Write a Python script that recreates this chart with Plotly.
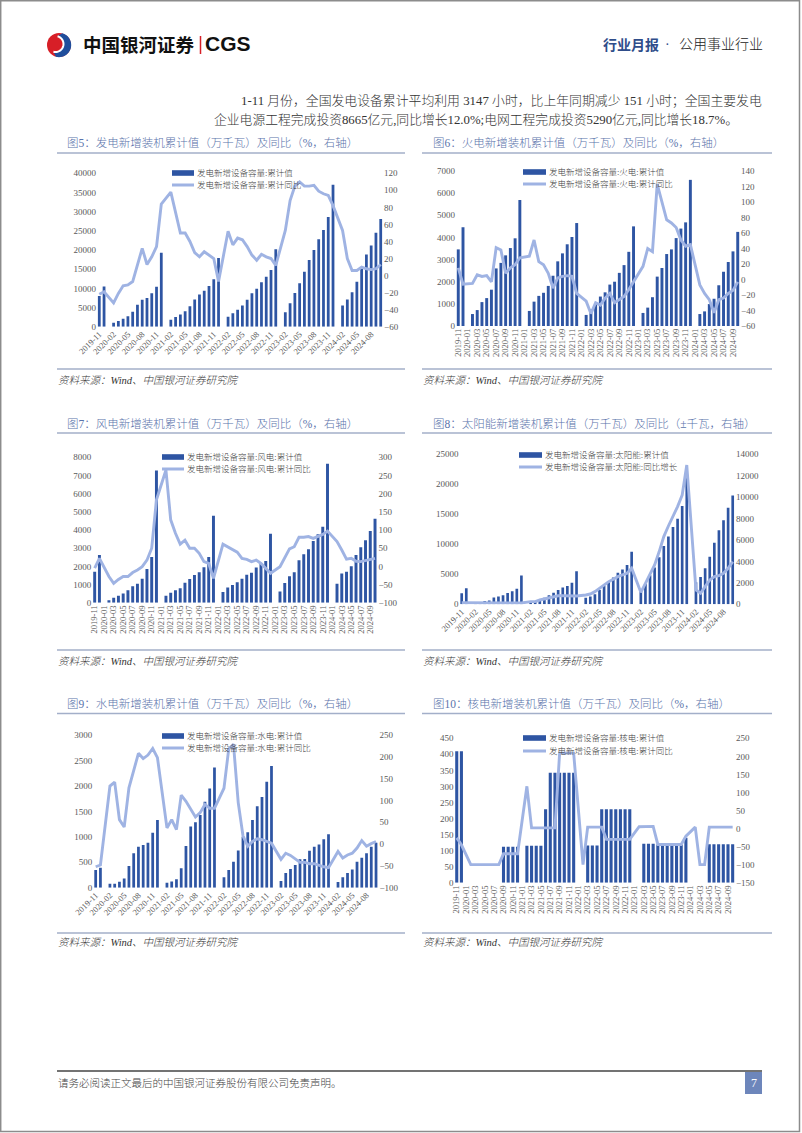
import math
import plotly.graph_objects as go

W, H = 802, 1133

# ---------------- data ----------------
months = [
    "2019-11", "2019-12",
    "2020-01", "2020-02", "2020-03", "2020-04", "2020-05", "2020-06",
    "2020-07", "2020-08", "2020-09", "2020-10", "2020-11", "2020-12",
    "2021-01", "2021-02", "2021-03", "2021-04", "2021-05", "2021-06",
    "2021-07", "2021-08", "2021-09", "2021-10", "2021-11", "2021-12",
    "2022-01", "2022-02", "2022-03", "2022-04", "2022-05", "2022-06",
    "2022-07", "2022-08", "2022-09", "2022-10", "2022-11", "2022-12",
    "2023-01", "2023-02", "2023-03", "2023-04", "2023-05", "2023-06",
    "2023-07", "2023-08", "2023-09", "2023-10", "2023-11", "2023-12",
    "2024-01", "2024-02", "2024-03", "2024-04", "2024-05", "2024-06",
    "2024-07", "2024-08", "2024-09", "2024-10",
]

ticks_every3 = ["2019-11", "2020-02", "2020-05", "2020-08", "2020-11", "2021-02", "2021-05",
                "2021-08", "2021-11", "2022-02", "2022-05", "2022-08", "2022-11", "2023-02",
                "2023-05", "2023-08", "2023-11", "2024-02", "2024-05", "2024-08"]
ticks_every2 = ["2019-11", "2020-01", "2020-03", "2020-05", "2020-07", "2020-09", "2020-11",
                "2021-01", "2021-03", "2021-05", "2021-07", "2021-09", "2021-11",
                "2022-01", "2022-03", "2022-05", "2022-07", "2022-09", "2022-11",
                "2023-01", "2023-03", "2023-05", "2023-07", "2023-09", "2023-11",
                "2024-01", "2024-03", "2024-05", "2024-07", "2024-09"]

# 图5 发电 total
total_val = [8000, 10500, None,
             1000, 1500, 2100, 2700, 3900, 5700, 7000, 7500, 8700, 10400, 19300, None,
             1800, 2500, 3200, 4000, 5300, 7100, 8400, 9400, 10600, 12400, 17900, None,
             2600, 3500, 4400, 5500, 7000, 8700, 9900, 11600, 13000, 14800, 20200, None,
             3800, 6100, 8800, 11300, 14300, 17400, 20000, 22800, 25200, 28600, 37000, None,
             5500, 7100, 9000, 11700, 15100, 18800, 21200, 24500, 28100]
total_yoy = [-22, -19, None,
             -32, -21, -12, -11, -7, 14, 32, 13, 22, 34, 84, None,
             98, 73, 50, 50, 40, 27, 22, 28, 24, 20, -7, None,
             52, 36, 44, 42, 34, 24, 18, 25, 22, 20, 12, None,
             53, 88, 105, 110, 105, 105, 106, 99, 96, 94, 82, None,
             53, 20, 6, 6, 10, 8, 7, 8, 13]

# 图6 火电 thermal
thermal_val = [3460, 4460, None,
               540, 720, 1080, 1260, 1640, 2600, 2850, 3190, 3520, 3960, 5690, None,
               680, 1100, 1360, 1500, 1810, 2270, 2920, 3280, 3690, 4020, 4650, None,
               500, 750, 1030, 1330, 1520, 1870, 2000, 2400, 2750, 3350, 4500, None,
               590, 830, 1300, 2230, 2620, 3250, 3460, 3970, 4400, 4680, 6600, None,
               540, 660, 990, 1230, 1840, 2450, 2890, 3370, 4250]
thermal_yoy = [15, -6, None,
               -5, 6, 4, 5, -3, 41, 38, 8, 15, 19, 28, None,
               30, 51, 23, 19, 8, -11, 2, 4, 5, 4, -18, None,
               -28, -44, -30, -33, -24, -18, -30, -26, -22, -13, -3, None,
               17, 40, 36, 123, 101, 77, 73, 67, 51, 43, 45, None,
               -7, -18, -26, -43, -26, -24, -18, -14, -3]

# 图7 风电 wind
wind_val = [1700, 2620, None,
            130, 275, 385, 510, 680, 900, 1040, 1320, 1850, 2510, 7270, None,
            385, 550, 680, 790, 1100, 1300, 1520, 1670, 1950, 2510, 4790, None,
            590, 830, 970, 1120, 1320, 1540, 1650, 1930, 2150, 2290, 3800, None,
            620, 1080, 1450, 1670, 2330, 2660, 2940, 3390, 3760, 4180, 7650, None,
            1040, 1610, 1700, 2000, 2620, 3050, 3430, 3940, 4620]
wind_yoy = [-5, 22, None,
            -28, -47, -36, -28, -28, -17, -10, -1, 17, 50, 183, None,
            265, 128, 91, 61, 72, 50, 50, 36, 13, 8, -33, None,
            61, 54, 45, 39, 22, 19, 13, 17, 8, -6, -19, None,
            -1, 22, 48, 54, 80, 80, 82, 77, 82, 88, 97, None,
            68, 45, 20, 22, 14, 13, 16, 17, 22]

# 图8 太阳能 solar
solar_val = [1830, 2670, None,
             270, 400, 540, 630, 1150, 1310, 1490, 1870, 2170, 2580, 4820, None,
             300, 450, 720, 1100, 1500, 1940, 2390, 2780, 3060, 3610, 5490, None,
             1090, 1320, 1690, 2370, 3090, 3760, 4450, 5260, 5810, 6540, 8740, None,
             2040, 3370, 4830, 6120, 7840, 9710, 11320, 12890, 14260, 16390, 21690, None,
             3670, 4570, 6000, 7920, 10250, 12350, 14000, 16090, 18130]
solar_yoy = [150, 150, None,
             120, 100, 100, 100, 100, 100, 100, 100, 100, 100, 120, None,
             250, 250, 400, 500, 620, 700, 800, 800, 800, 800, 780, None,
             870, 960, 1180, 1490, 1800, 2110, 2330, 2580, 2740, 2890, 3360, None,
             1120, 1960, 2830, 3670, 4920, 6320, 7310, 8180, 9120, 10200, 13000, None,
             1340, 1030, 1650, 2270, 2580, 2680, 2890, 3360, 3980]

# 图9 水电 hydro
hydro_val = [347, 393, None,
             79, 79, 118, 183, 425, 675, 805, 838, 884, 1080, 1330, None,
             98, 124, 164, 380, 819, 1200, 1284, 1428, 1690, 1950, 2360, None,
             203, 350, 510, 730, 1000, 1090, 1330, 1600, 1780, 2080, 2390, None,
             131, 288, 367, 445, 557, 563, 727, 805, 851, 950, 1048, None,
             111, 203, 288, 360, 511, 590, 675, 805, 884]
hydro_yoy = [-52, -48, None,
             133, 142, 56, 39, 129, 168, 208, 196, 204, 219, 198, None,
             37, 56, 33, 112, 98, 79, 62, 72, 91, 82, 82, None,
             128, 218, 229, 95, 19, -5, 6, 12, 10, 6, 2, None,
             -35, -21, -26, -35, -42, -42, -45, -45, -49, -52, -54, None,
             -17, -32, -25, -21, -9, 8, -5, 1, 6]

# 图10 核电 nuclear
nuclear_val = [410, 410, None,
               None, None, None, None, None, None, None, 112, 112, 112, 112, None,
               115, 115, 115, 115, 229, 343, 343, 343, 343, 343, 343, None,
               None, 116, 116, 116, 229, 229, 229, 229, 229, 229, 229, None,
               None, 121, 121, 121, 119, 119, 119, 119, 119, 119, 140, None,
               None, None, None, 120, 120, 120, 120, 120, 120]
nuclear_yoy = [-26, -45, None,
               -100, -100, -100, -100, -100, -100, -100, -70, -70, -70, -70, None,
               117, 2, 2, 2, 2, 2, 2, 209, 209, 209, 209, None,
               -100, 4, 4, 4, 4, -30, -30, -30, -30, -30, -30, None,
               5, 6, 6, 6, -44, -44, -44, -44, -44, -44, -21, None,
               4, -100, -100, 4, 4, 4, 4, 4, 4]

# ---------------- styles ----------------
BAR = "#2e55a3"
LINE = "#9fb3e3"
TITLE_C = "#5a73ab"
RULE_C = "#a3afc9"
TICK_C = "#595959"
SERIF = "Liberation Serif, Noto Sans CJK SC, serif"
SANS_CJK = "Noto Sans CJK SC, sans-serif"


def px(x):
    return x / W


def py(y):
    return 1 - y / H


shapes = []
annotations = []


def hline(x0, x1, y, color, width):
    shapes.append(dict(type="line", xref="paper", yref="paper", x0=px(x0), x1=px(x1),
                       y0=py(y), y1=py(y), line=dict(color=color, width=width)))


def vline(x, y0, y1, color, width):
    shapes.append(dict(type="line", xref="paper", yref="paper", x0=px(x), x1=px(x),
                       y0=py(y0), y1=py(y1), line=dict(color=color, width=width)))


def rect(x0, y0, x1, y1, fill, line_color=None, lw=0):
    shapes.append(dict(type="rect", xref="paper", yref="paper", x0=px(x0), x1=px(x1),
                       y0=py(y1), y1=py(y0), fillcolor=fill,
                       line=dict(color=line_color or fill, width=lw)))


def text(x, y, s, size, color, anchor="left", family=SERIF, style="normal", weight=300):
    annotations.append(dict(x=px(x), y=py(y), xref="paper", yref="paper", text=s,
                            showarrow=False, xanchor=anchor, yanchor="middle",
                            font=dict(size=size, color=color, family=family, style=style,
                                      weight=weight),
                            borderpad=0))


def path_px(points, close=True):
    s = "M " + " L ".join(f"{px(a):.5f},{py(b):.5f}" for a, b in points)
    return s + (" Z" if close else "")


def arc(cx, cy, r, a0, a1, n=24):
    return [(cx + r * math.cos(math.radians(a0 + (a1 - a0) * k / n)),
             cy + r * math.sin(math.radians(a0 + (a1 - a0) * k / n))) for k in range(n + 1)]


charts = [
    dict(title="图5：发电新增装机累计值（万千瓦）及同比（%，右轴）", val=total_val, yoy=total_yoy,
         names=("发电新增设备容量:累计值", "发电新增设备容量:累计同比"), ticks=ticks_every3, angle=-45,
         x0=96.9, x1=383.1, ytop=173.3, ybot=326.7, r1=[0, 40000], d1=5000, r2=[-60, 120], d2=20,
         leg=(172, 194, 196, 173, 185), bw=0.58),
    dict(title="图6：火电新增装机累计值（万千瓦）及同比（%，右轴）", val=thermal_val, yoy=thermal_yoy,
         names=("发电新增设备容量:火电:累计值", "发电新增设备容量:火电:累计同比"), ticks=ticks_every2, angle=-90,
         x0=455.9, x1=740.1, ytop=171.0, ybot=326.0, r1=[0, 7000], d1=1000, r2=[-60, 140], d2=20,
         leg=(523, 546, 548, 172, 184), bw=0.62),
    dict(title="图7：风电新增装机累计值（万千瓦）及同比（%，右轴）", val=wind_val, yoy=wind_yoy,
         names=("发电新增设备容量:风电:累计值", "发电新增设备容量:风电:累计同比"), ticks=ticks_every2, angle=-90,
         x0=92.3, x1=377.4, ytop=457.3, ybot=602.7, r1=[0, 8000], d1=1000, r2=[-100, 300], d2=50,
         leg=(162, 184, 186, 457, 469), bw=0.62),
    dict(title="图8：太阳能新增装机累计值（万千瓦）及同比（±千瓦，右轴）", val=solar_val, yoy=solar_yoy,
         names=("发电新增设备容量:太阳能:累计值", "发电新增设备容量:太阳能:同比增长"), ticks=ticks_every3, angle=-45,
         x0=459.4, x1=735.0, ytop=454.3, ybot=604.3, r1=[0, 25000], d1=5000, r2=[0, 14000], d2=2000,
         leg=(519, 542, 544, 455, 467), bw=0.58),
    dict(title="图9：水电新增装机累计值（万千瓦）及同比（%，右轴）", val=hydro_val, yoy=hydro_yoy,
         names=("发电新增设备容量:水电:累计值", "发电新增设备容量:水电:累计同比"), ticks=ticks_every3, angle=-45,
         x0=93.3, x1=378.4, ytop=735.0, ybot=887.7, r1=[0, 3000], d1=500, r2=[-100, 250], d2=50,
         leg=(162, 184, 186, 736, 748), bw=0.58),
    dict(title="图10：核电新增装机累计值（万千瓦）及同比（%，右轴）", val=nuclear_val, yoy=nuclear_yoy,
         names=("发电新增设备容量:核电:累计值", "发电新增设备容量:核电:累计同比"), ticks=ticks_every2, angle=-90,
         x0=454.4, x1=735.0, ytop=738.3, ybot=882.7, r1=[0, 450], d1=50, r2=[-150, 250], d2=50,
         leg=(523, 546, 548, 738, 751), bw=0.66),
]

# panel frame positions: (title_y, rule_y, bottom_rule_y, source_y)
rows = [(143, 153, 369, 380), (423, 433, 650, 661), (704, 713.5, 933, 942)]
cols = [(57, 405, 66), (422, 772, 432)]

fig = go.Figure()
layout = dict(width=W, height=H, margin=dict(l=0, r=0, t=0, b=0, pad=0, autoexpand=False),
              paper_bgcolor="white", plot_bgcolor="white", showlegend=False)

tickfont = dict(family=SERIF, size=9, color=TICK_C)

for i, c in enumerate(charts, start=1):
    xn = "x" if i == 1 else f"x{i}"
    y1n = "y" if i == 1 else f"y{2 * i - 1}"
    y2n = f"y{2 * i}"
    fig.add_trace(go.Bar(x=months, y=c["val"], name=c["names"][0], marker_color=BAR,
                         marker_line_width=0, width=c["bw"], xaxis=xn, yaxis=y1n))
    fig.add_trace(go.Scatter(x=months, y=c["yoy"], name=c["names"][1], mode="lines",
                             connectgaps=True, line=dict(color=LINE, width=2.9),
                             xaxis=xn, yaxis=y2n))
    xkey = "xaxis" if i == 1 else f"xaxis{i}"
    y1key = "yaxis" if i == 1 else f"yaxis{2 * i - 1}"
    y2key = f"yaxis{2 * i}"
    layout[xkey] = dict(domain=[px(c["x0"]), px(c["x1"])], anchor=y1n, type="category",
                        categoryorder="array", categoryarray=months, range=[-0.5, len(months) - 0.5],
                        tickmode="array", tickvals=c["ticks"], ticktext=c["ticks"],
                        tickangle=c["angle"], tickfont=dict(family=SERIF, size=8.5, color=TICK_C),
                        showgrid=False, zeroline=False, showline=False, ticks="", fixedrange=True,
                        automargin=False)
    layout[y1key] = dict(domain=[py(c["ybot"]), py(c["ytop"])], anchor=xn, range=c["r1"],
                         tick0=c["r1"][0], dtick=c["d1"], tickformat="d", tickfont=tickfont,
                         showgrid=False, zeroline=False, showline=False, ticks="", fixedrange=True,
                         automargin=False)
    layout[y2key] = dict(overlaying=y1n, side="right", anchor=xn, range=c["r2"],
                         tick0=c["r2"][0], dtick=c["d2"], tickformat="d", tickfont=tickfont,
                         showgrid=False, zeroline=False, showline=False, ticks="", fixedrange=True,
                         automargin=False)

    # panel title, rules, source
    row = rows[(i - 1) // 2]
    col = cols[(i - 1) % 2]
    text(col[2], row[0], c["title"], 11.5, TITLE_C, family=SERIF)
    hline(col[0], col[1], row[1], RULE_C, 1.5)
    hline(col[0], col[1], row[2], RULE_C, 1.5)
    text(col[0], row[3], "资料来源：Wind、中国银河证券研究院", 10.5, "#333333", style="italic")

    # legend (inside, top centre)
    sx0, sx1, tx, ly1, ly2 = c["leg"]
    rect(sx0, ly1 - 2.8, sx1, ly1 + 2.8, BAR)
    hline(sx0, sx1, ly2, LINE, 3)
    text(tx, ly1, c["names"][0], 8.5, "#404040")
    text(tx, ly2, c["names"][1], 8.5, "#404040")

# ---------------- page furniture ----------------
# page frame
shapes.append(dict(type="rect", xref="paper", yref="paper", x0=px(0.7), x1=px(799.5),
                   y0=py(1131.5), y1=py(0.7), line=dict(color="#8c8c8c", width=1.5),
                   fillcolor="rgba(0,0,0,0)"))

# logo
shapes.append(dict(type="circle", xref="paper", yref="paper", x0=px(47), x1=px(71),
                   y0=py(57), y1=py(33), fillcolor="#d71f27", line=dict(width=0)))
outer = arc(59, 45, 12.2, -75, 105)
inner = arc(55.5, 44, 8.0, 105, -75)
shapes.append(dict(type="path", xref="paper", yref="paper", path=path_px(outer + inner),
                   fillcolor="#1f4e9c", line=dict(width=0)))
shapes.append(dict(type="path", xref="paper", yref="paper",
                   path=path_px(arc(55.5, 44, 8.0, -75, 105), close=False),
                   fillcolor="rgba(0,0,0,0)", line=dict(color="white", width=2)))
text(82, 44, "<b>中国银河证券</b>", 18.5, "#111111", family=SANS_CJK, weight=700)
vline(200.5, 36, 54, "#d71f27", 1.5)
text(204, 44, "<b>CGS</b>", 21, "#111111", family="Liberation Sans, Arial, sans-serif", weight=700)

# header right
text(602, 45, "<b>行业月报</b>", 14, "#2f4d8a", family=SERIF, weight=700)
text(667, 45, "·", 14, "#2f4d8a", anchor="center", family=SERIF)
text(678, 45, "公用事业行业", 14, "#222222", family=SERIF)

# paragraph
text(240, 100, "1-11 月份，全国发电设备累计平均利用 3147 小时，比上年同期减少 151 小时；全国主要发电",
     12.85, "#333333")
text(213, 120, "企业电源工程完成投资8665亿元,同比增长12.0%;电网工程完成投资5290亿元,同比增长18.7%。",
     12.8, "#333333")

# footer
hline(57, 762, 1071, "#444444", 1.5)
text(57, 1083, "请务必阅读正文最后的中国银河证券股份有限公司免责声明。", 10.5, "#444444")
rect(745, 1072, 762, 1094, "#6d86bb")
text(753.5, 1083, "7", 12, "white", anchor="center")

layout["shapes"] = shapes
layout["annotations"] = annotations
fig.update_layout(**layout)
fig.write_html(
    "out.html",
    config={"displayModeBar": False, "responsive": False},
    post_script="document.body.style.margin='0px';document.body.style.padding='0px';"
                "document.body.style.overflow='hidden';",
)
